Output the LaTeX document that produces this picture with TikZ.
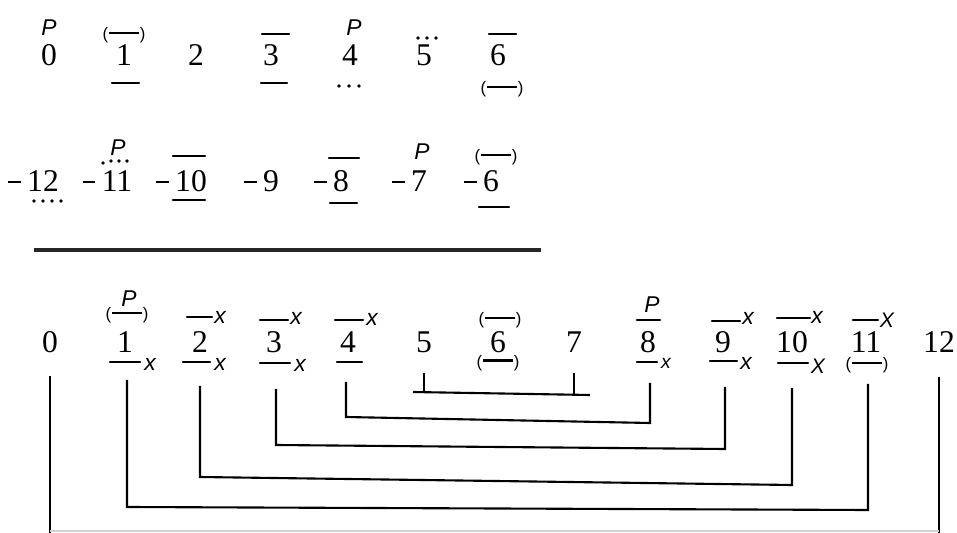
\documentclass[tikz,border=0pt]{standalone}
\usepackage{fontspec}
\setmainfont{Liberation Serif}
\newfontfamily\handfont{Liberation Sans}
\usetikzlibrary{calc}

% small handwritten "(-)" sign and minus in front of the lower numbers
\newcommand{\pbar}[1][1.1pt]{(\kern0.05em\rule[0.3em]{1.8em}{#1}\kern0.05em)}
\newcommand{\mns}{\llap{\rule[0.27em]{0.4em}{0.05em}\hspace{0.2em}}}

\begin{document}
\begin{tikzpicture}[
    x=0.02cm, y=-0.02cm,
    num/.style={inner sep=0pt, font=\fontsize{18}{18}\selectfont},
    hand/.style={inner sep=0pt, font=\handfont\itshape\fontsize{13}{13}\selectfont},
    bigx/.style={hand, font=\handfont\itshape\fontsize{12}{12}\selectfont},
    paren/.style={inner sep=0pt, font=\handfont\fontsize{9.5}{9.5}\selectfont},
    bar/.style={line width=1.4pt, line cap=round},
    bracket/.style={line width=1.2pt},
    sep/.style={line width=2.6pt, black!85},
]
\useasboundingbox (0,0) rectangle (957,533);

% rows of numbers
\foreach \n/\x in {0/49,1/124,2/196,3/271,4/350,5/424,6/498}
  \node[num] (a\n) at (\x,55) {\n};
\foreach \n/\x in {12/43,11/117,10/191,9/271,8/341,7/419,6/491}
  \node[num] (m\n) at (\x,181) {\mns\n};
\foreach \n/\x in {0/50,1/125,2/200,3/274,4/348,5/424,6/498,7/574,8/648,9/723,10/792,11/866,12/939}
  \node[num] (c\n) at (\x,342) {\n};

% P marks
\node[hand] (pa0) at (49,28) {P};
\node[hand] (pa4) at (354,28) {P};
\node[hand] (pm11) at (118,148) {P};
\node[hand] (pm7) at (422,152) {P};
\node[hand] (pc1) at (129,299) {P};
\node[hand] (pc8) at (652,305) {P};

% (-) marks
\node[paren] (qa1) at (124,35) {\pbar};
\node[paren] (qa6) at (502,89) {\pbar};
\node[paren] (qm6) at (496,157) {\pbar};
\node[paren] (qc1) at (127,315) {\pbar};
\node[paren] (qc6a) at (500,320) {\pbar};
\node[paren] (qc6b) at (498,363) {\pbar[1.8pt]};
\node[paren] (qc11) at (867,365) {\pbar};

% bars over and under the numbers
\foreach \xa/\xb/\y in {112/139/83, 262/289/34, 261/287/83, 489/516/34,
    173/205/156, 173/205/200, 329/359/158, 330/357/203, 479/509/207,
    110/140/362, 187/212/317, 183/210/362, 260/288/320, 260/290/363,
    335/363/320, 337/362/362, 637/660/320, 637/657/362, 712/740/321,
    710/737/361, 777/810/318, 778/808/363, 853/878/320}
  \draw[bar] (\xa,\y) -- (\xb,\y);

% x marks
\foreach \i/\x/\y in {1/150/364, 2/220/317, 3/220/364, 4/296/318, 5/300/365,
    6/372/319, 7/748/318, 8/746/363, 9/817/317}
  \node[hand] (x\i) at (\x,\y) {x};
\node[hand, font=\handfont\itshape\fontsize{11}{11}\selectfont] (x10) at (666,363) {x};
\node[bigx] (x11) at (818,366) {X};
\node[bigx] (x12) at (887,320) {X};

% dots
\foreach \x/\y in {339/86, 349/86, 359/86, 418/38, 427/38, 436/38,
    34/201, 43/201, 52/201, 61/201, 103/163, 111/161, 119/161, 127/161}
  \fill (\x,\y) circle (1.8);

% separating line
\draw[sep] (34,250) -- (541,250);

% brackets
\draw[bracket] (c0 |- 0,376) -- (c0 |- 0,533);
\draw[bracket] (c12 |- 0,377) -- (c12 |- 0,533);
\draw[gray!35, line width=1pt] (c0 |- 0,531) -- (c12 |- 0,531);
\draw[bracket] ($(c1 |- 0,380)+(2,0)$) -- ($(c1 |- 0,507)+(2,0)$) -- ($(c11 |- 0,510)+(2,0)$) -- ($(c11 |- 0,384)+(2,0)$);
\draw[bracket] (c2 |- 0,386) -- (c2 |- 0,477) -- (c10 |- 0,485) -- (c10 |- 0,388);
\draw[bracket] ($(c3 |- 0,389)+(2,0)$) -- ($(c3 |- 0,445)+(2,0)$) -- ($(c9 |- 0,449)+(2,0)$) -- ($(c9 |- 0,387)+(2,0)$);
\draw[bracket] ($(c4 |- 0,382)+(-2,0)$) -- ($(c4 |- 0,417)+(-2,0)$) -- ($(c8 |- 0,423)+(2,0)$) -- ($(c8 |- 0,383)+(2,0)$);
\draw[bracket] (c5 |- 0,373) -- (c5 |- 0,393);
\draw[bracket] (c7 |- 0,373) -- (c7 |- 0,395);
\draw[bracket] ($(c5 |- 0,392)+(-11,0)$) -- ($(c7 |- 0,395)+(16,0)$);

\end{tikzpicture}
\end{document}
